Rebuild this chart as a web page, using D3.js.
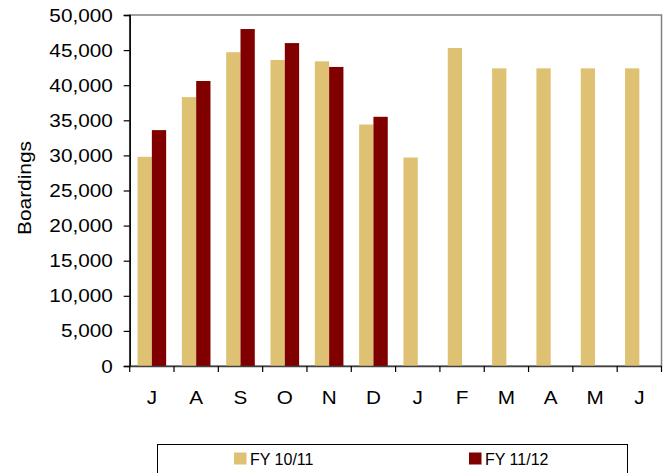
<!DOCTYPE html>
<html><head><meta charset="utf-8">
<script src="https://cdn.jsdelivr.net/npm/d3@7"></script>
<style>body{margin:0;background:#fff;}svg{display:block;font-family:"Liberation Sans",Arial,sans-serif;}</style>
</head><body><svg id="c" width="667" height="473"></svg>
<script>
const months = ["J","A","S","O","N","D","J","F","M","A","M","J"];
const fy1011 = [29800,38300,44700,43600,43400,34400,29700,45300,42400,42400,42400,42400];
const fy1112 = [33600,40600,48000,46000,42600,35500,null,null,null,null,null,null];
const seriesNames = ["FY 10/11","FY 11/12"];
const colors = ["#DEC172","#800000"];
const yTicks = [0,5000,10000,15000,20000,25000,30000,35000,40000,45000,50000];

const svg = d3.select("#c");
const L=129.7, R=661.5, T=15, B=366;
const x = d3.scaleBand().domain(d3.range(months.length)).range([L,R]).paddingInner(0).paddingOuter(0);
const y = d3.scaleLinear().domain([0,50000]).range([B,T]);
const bw = x.bandwidth();
const barW = 14.3, off = (bw-2*barW)/2;

function stretch(sel, k){
  sel.each(function(){ const w=this.getComputedTextLength(); d3.select(this).attr("textLength",w*k).attr("lengthAdjust","spacingAndGlyphs"); });
}

svg.append("rect").attr("x",L).attr("y",T).attr("width",R-L).attr("height",B-T)
  .attr("fill","none").attr("stroke","#808080").attr("stroke-width",1.5);

const data = [fy1011, fy1112];
data.forEach((ser,si)=>{
  svg.append("g").selectAll("rect").data(ser.map((v,i)=>({v,i})).filter(d=>d.v!=null))
    .join("rect")
    .attr("x",d=>x(d.i)+off+si*barW)
    .attr("y",d=>y(d.v))
    .attr("width",barW)
    .attr("height",d=>y(0)-y(d.v))
    .attr("fill",colors[si]);
});

const ya = svg.append("g").attr("transform",`translate(${L},0)`)
  .call(d3.axisLeft(y).tickValues(yTicks).tickSize(6).tickPadding(11).tickFormat(d3.format(",")));
ya.select(".domain").attr("stroke","#000").attr("stroke-width",1.5);
ya.selectAll(".tick line").attr("stroke","#000").attr("stroke-width",1.2);
ya.selectAll("text").attr("font-size","19px").attr("fill","#000").attr("font-family","Liberation Sans, Arial, sans-serif").call(stretch,1.09);

const xa = svg.append("g").attr("transform",`translate(0,${B})`)
  .call(d3.axisBottom(x).tickSize(0).tickFormat(i=>months[i]).tickPadding(25));
xa.select(".domain").attr("stroke","#404040").attr("stroke-width",1.5);
xa.selectAll("text").attr("font-size","19px").attr("fill","#000").attr("font-family","Liberation Sans, Arial, sans-serif").call(stretch,1.09);
svg.append("g").selectAll("line").data(d3.range(months.length+1)).join("line")
  .attr("x1",i=>L+i*bw).attr("x2",i=>L+i*bw).attr("y1",B).attr("y2",B+6)
  .attr("stroke","#000").attr("stroke-width",1.2);

svg.append("text").attr("transform","translate(31,188) rotate(-90)")
  .attr("text-anchor","middle").attr("font-size","19px").attr("fill","#000").text("Boardings").call(stretch,1.1);

svg.append("rect").attr("x",157.5).attr("y",444.5).attr("width",470).attr("height",40)
  .attr("fill","none").attr("stroke","#000").attr("stroke-width",1);
const lx = [234,469];
seriesNames.forEach((n,i)=>{
  svg.append("rect").attr("x",lx[i]).attr("y",452.5).attr("width",12.5).attr("height",12).attr("fill",colors[i]);
  svg.append("text").attr("x",lx[i]+16).attr("y",464.5).attr("font-size","16px").attr("fill","#000").text(n);
});
</script></body></html>
